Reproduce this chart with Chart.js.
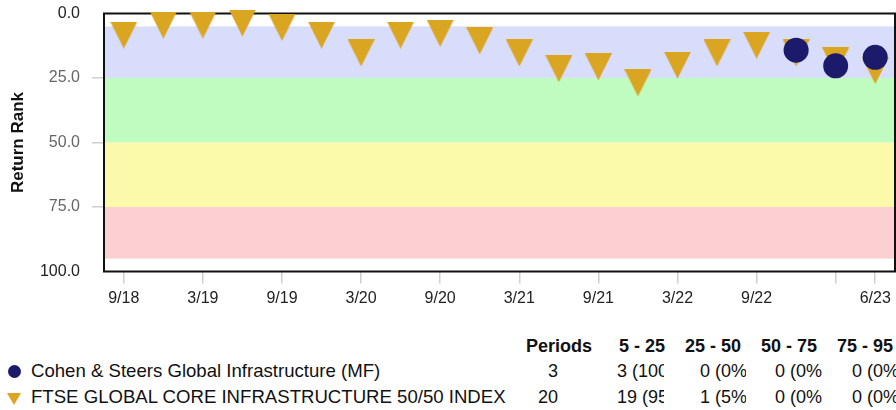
<!DOCTYPE html>
<html><head><meta charset="utf-8">
<script src="https://cdn.jsdelivr.net/npm/chart.js@4.4.0/dist/chart.umd.min.js"></script>
<style>
html,body{margin:0;padding:0;background:#fff;}
body{width:896px;height:410px;overflow:hidden;position:relative;font-family:"Liberation Sans",Arial,Helvetica,sans-serif;color:#111;}
#wrap{position:absolute;left:0;top:0;width:896px;height:310px;}
.t{position:absolute;white-space:nowrap;overflow:hidden;font-size:18px;line-height:20px;height:20px;}
.b{font-weight:bold;}
.r{text-align:right;}
.nm{font-size:18.6px;}
.dot{position:absolute;width:13px;height:13px;border-radius:50%;background:#1b1a6b;}
.tri{position:absolute;width:0;height:0;border-left:7px solid transparent;border-right:7px solid transparent;border-top:12px solid #DAA520;}
</style></head><body>
<div id="wrap"><canvas id="c" width="896" height="310"></canvas></div>
<div id="legend"></div>
<script>
// ---- data ----
const quarters = ['9/18','12/18','3/19','6/19','9/19','12/19','3/20','6/20','9/20','12/20','3/21','6/21','9/21','12/21','3/22','6/22','9/22','12/22','3/23','6/23'];
const indexRank = [8.4,4.5,4.5,3.7,5.4,8.4,15.3,8.4,7.7,10.6,15.3,21.4,20.7,26.9,20.0,15.3,12.3,15.3,18.4,22.1];
const fundRank = [null,null,null,null,null,null,null,null,null,null,null,null,null,null,null,null,null,14.2,20.3,17.0];
const xTickMarks = ['9/18','3/19','9/19','3/20','9/20','3/21','9/21','3/22','9/22','3/23','6/23'];
const xTickLabels = ['9/18','3/19','9/19','3/20','9/20','3/21','9/21','3/22','9/22','6/23'];
const yTicks = [0,25,50,75,100];
const bandEdges = [5,25,50,75,95];
const bandColors = ['rgb(217,221,252)','rgb(192,252,192)','rgb(250,250,170)','rgb(252,208,210)'];
const seriesNames = ['Cohen & Steers Global Infrastructure (MF)','FTSE GLOBAL CORE INFRASTRUCTURE 50/50 INDEX'];
const tableHeaders = ['Periods','5 - 25','25 - 50','50 - 75','75 - 95'];
const periods = [3,20];
const fundCounts = [3,0,0,0];
const indexCounts = [19,1,0,0];

const FUND_COLOR = '#1b1a6b';
const INDEX_COLOR = '#DAA520';

// triangle-down marker image
const tri = document.createElement('canvas');
tri.width = 27; tri.height = 27;
(function(){const g=tri.getContext('2d');g.fillStyle=INDEX_COLOR;g.beginPath();g.moveTo(0,0);g.lineTo(27,0);g.lineTo(13.5,27);g.closePath();g.fill();})();

const bandsPlugin = {
  id:'bands',
  beforeDatasetsDraw(chart){
    const {ctx, chartArea:a, scales:{y}} = chart;
    ctx.save();
    for(let i=0;i<bandColors.length;i++){
      const y1=y.getPixelForValue(bandEdges[i]), y2=y.getPixelForValue(bandEdges[i+1]);
      ctx.fillStyle=bandColors[i];
      ctx.fillRect(a.left,y1,a.right-a.left,y2-y1);
    }
    ctx.strokeStyle='#111'; ctx.lineWidth=2;
    ctx.strokeRect(a.left,a.top,a.right-a.left,a.bottom-a.top);
    ctx.restore();
  }
};

const FONT = '"Liberation Sans", Arial, Helvetica, sans-serif';
new Chart(document.getElementById('c'), {
  type:'line',
  data:{
    labels: quarters,
    datasets:[
      {label:seriesNames[0], data:fundRank, showLine:false, pointStyle:'circle', pointRadius:12.5, pointHoverRadius:12.5,
       backgroundColor:FUND_COLOR, borderColor:FUND_COLOR, pointBorderWidth:0, clip:false},
      {label:seriesNames[1], data:indexRank, showLine:false, pointStyle:tri, pointRadius:13, pointHoverRadius:13,
       backgroundColor:INDEX_COLOR, borderColor:INDEX_COLOR, pointBorderWidth:0, clip:false}
    ]
  },
  options:{
    responsive:false, animation:false, devicePixelRatio:1,
    layout:{autoPadding:false, padding:{top:13.5, right:1, left:0, bottom:0}},
    plugins:{legend:{display:false}, tooltip:{enabled:false}},
    events:[],
    scales:{
      x:{
        type:'category', offset:true,
        afterFit(s){ s.height = 38.5; s.paddingLeft = 0; s.paddingRight = 0; },
        grid:{drawOnChartArea:false, tickLength:12, lineWidth:1.5,
          tickColor:(c)=> (c.tick && xTickMarks.includes(quarters[c.index])) ? '#cfcfcf' : 'rgba(0,0,0,0)'},
        border:{display:false},
        ticks:{autoSkip:false, maxRotation:0, padding:5, color:'#222', font:{family:FONT,size:16},
          callback:(v,i)=> xTickLabels.includes(quarters[i]) ? quarters[i] : ''}
      },
      y:{
        min:0, max:100, reverse:true,
        afterFit(s){ s.width = 104; s.paddingTop = 0; s.paddingBottom = 0; },
        afterBuildTicks(s){ s.ticks = yTicks.map(v=>({value:v})); },
        grid:{drawOnChartArea:false, tickLength:12, lineWidth:1.5,
          tickColor:(c)=> (c.tick && (c.tick.value===0||c.tick.value===100)) ? 'rgba(0,0,0,0)' : '#cfcfcf'},
        border:{display:false},
        title:{display:true, text:'Return Rank', color:'#111', font:{family:FONT,size:17,weight:'bold'}, padding:{top:8,bottom:0}},
        ticks:{padding:12, font:{family:FONT,size:16},
          color:(c)=> (c.tick && (c.tick.value===0||c.tick.value===100)) ? '#222' : '#666',
          callback:(v)=> Number(v).toFixed(1)}
      }
    }
  },
  plugins:[bandsPlugin]
});

// ---- legend table ----
const L = document.getElementById('legend');
function cell(text, left, top, width, cls){
  const d=document.createElement('div'); d.className='t '+(cls||''); d.textContent=text;
  d.style.left=left+'px'; d.style.top=top+'px'; if(width) d.style.width=width+'px';
  L.appendChild(d); return d;
}
const headerRight=[592,665,741,817,893];
tableHeaders.forEach((h,i)=>cell(h, headerRight[i]-90, 335.5, 90, 'b r'));
const rowTop=[361,386.5];
const colLeft=[617,700,775,852], colW=[46.5,46,46.5,60];
[fundCounts,indexCounts].forEach((counts,r)=>{
  cell(seriesNames[r], 31, rowTop[r], null, 'nm');
  cell(String(periods[r]), 500, rowTop[r], 58, 'r');
  counts.forEach((c,j)=>cell(c+' ('+Math.round(c/periods[r]*100)+'%)', colLeft[j], rowTop[r], colW[j], ''));
});
const dot=document.createElement('div'); dot.className='dot'; dot.style.left='7.5px'; dot.style.top='364.5px'; L.appendChild(dot);
const tr=document.createElement('div'); tr.className='tri'; tr.style.left='7px'; tr.style.top='393px'; L.appendChild(tr);
</script>
</body></html>
